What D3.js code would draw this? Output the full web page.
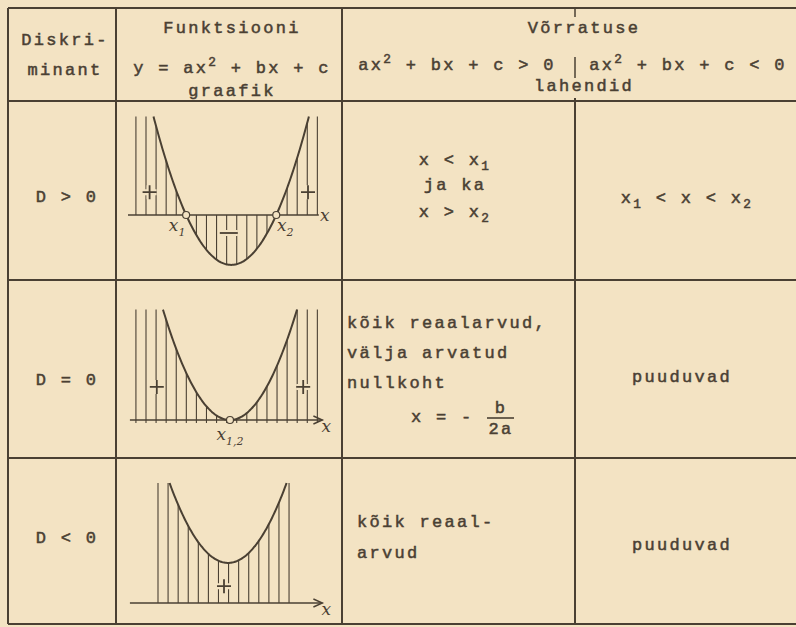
<!DOCTYPE html>
<html>
<head>
<meta charset="utf-8">
<script src="https://cdn.jsdelivr.net/npm/d3@7"></script>
<style>
  body { margin: 0; background: #f3e3c3; }
  svg { display: block; }
</style>
</head>
<body>
<svg id="chart" width="796" height="627"></svg>
<script>
  // --- table texts ---
  const discriminants = ['D > 0', 'D = 0', 'D < 0'];
  const headerDiscr = ['Diskri-', 'minant'];
  const headerGraph = ['Funktsiooni', 'y = ax^{2} + bx + c', 'graafik'];
  const headerIneq = ['Võrratuse', 'lahendid'];
  const ineqLabels = ['ax^{2} + bx + c > 0', 'ax^{2} + bx + c < 0'];
  const solutionsGt = [
    ['x < x_{1}', 'ja ka', 'x > x_{2}'],
    ['kõik reaalarvud,', 'välja arvatud', 'nullkoht'],
    ['kõik reaal-', 'arvud']
  ];
  const solutionsLt = ['x_{1} < x < x_{2}', 'puuduvad', 'puuduvad'];

  // --- parabolas y = a (x - h)^2 + k, in graph units ---
  const parabolaA = [0.59, 0.59, 0.56];
  const vertexH = [4.3, 4.25, 4.17];
  const vertexK = [-2.08, 0, 1.67];
  const curveTop = [4.1, 4.6, 5.0];
  const hatchFrom = [0.33, 0.33, 1.25];
  const hatchTo = [7.9, 7.9, 7.1];
  const signs = [
    [{ x: 0.9, y: 0.95, s: '+' }, { x: 7.5, y: 0.95, s: '+' }, { x: 4.2, y: -0.75, s: '-' }],
    [{ x: 1.2, y: 1.38, s: '+' }, { x: 7.3, y: 1.38, s: '+' }],
    [{ x: 4.0, y: 0.7, s: '+' }]
  ];
  const rootLabels = [['x_{1}', 'x_{2}'], ['x_{1,2}'], []];

  const INK = '#4a4033';
  const PAPER = '#f3e3c3';
  const MONO = '"Liberation Mono", "DejaVu Sans Mono", monospace';
  const HAND = '"DejaVu Serif", serif';

  const colX = [8, 116, 342, 575, 796];
  const rowY = [8, 101, 280, 458, 624];
  const axisY = [215, 420, 603];

  const svg = d3.select('#chart');
  svg.append('rect').attr('width', 796).attr('height', 627).attr('fill', PAPER);

  // text with _{sub} and ^{sup}
  function richText(parent, str, x, y, anchor, size) {
    size = size || 17;
    const t = parent.append('text')
      .attr('x', x).attr('y', y)
      .attr('text-anchor', anchor || 'middle')
      .attr('font-family', MONO)
      .attr('font-size', size)
      .attr('letter-spacing', 2.3)
      .attr('fill', INK)
      .attr('stroke', INK)
      .attr('stroke-width', 0.5);
    const re = /([_^])\{([^}]*)\}/g;
    let last = 0, cur = 0, m;
    const push = (txt, off, fs) => {
      if (!txt) return;
      t.append('tspan').attr('dy', off - cur).attr('font-size', fs).text(txt);
      cur = off;
    };
    while ((m = re.exec(str))) {
      push(str.slice(last, m.index), 0, size);
      push(m[2], m[1] === '_' ? size * 0.3 : -size * 0.42, size * 0.75);
      last = re.lastIndex;
    }
    push(str.slice(last), 0, size);
    return t;
  }

  function handText(parent, str, x, y) {
    const [base, sub] = str.replace('}', '').split('_{');
    const t = parent.append('text')
      .attr('x', x).attr('y', y)
      .attr('text-anchor', 'middle')
      .attr('font-family', HAND)
      .attr('font-style', 'italic')
      .attr('font-size', 17)
      .attr('fill', INK);
    t.append('tspan').text(base);
    if (sub) t.append('tspan').attr('dy', 5).attr('font-size', 11).text(sub);
  }

  // --- grid ---
  const grid = svg.append('g')
    .attr('stroke', INK).attr('stroke-width', 2).attr('fill', 'none');
  rowY.forEach(y => grid.append('line')
    .attr('x1', colX[0]).attr('x2', colX[4]).attr('y1', y).attr('y2', y));
  colX.slice(0, 3).forEach(x => grid.append('line')
    .attr('x1', x).attr('x2', x).attr('y1', rowY[0]).attr('y2', rowY[4]));
  grid.append('line').attr('x1', colX[3]).attr('x2', colX[3])
    .attr('y1', rowY[1] - 3).attr('y2', rowY[4]);
  grid.append('line').attr('x1', colX[3]).attr('x2', colX[3])
    .attr('y1', rowY[0]).attr('y2', rowY[0] + 9).attr('stroke-width', 1.5);
  grid.append('line').attr('x1', colX[3]).attr('x2', colX[3])
    .attr('y1', 57).attr('y2', 78).attr('stroke-width', 1.5);

  // --- header ---
  const head = svg.append('g');
  richText(head, headerDiscr[0], 65, 45);
  richText(head, headerDiscr[1], 65, 75);
  richText(head, headerGraph[0], 232, 33);
  richText(head, headerGraph[1], 232, 73);
  richText(head, headerGraph[2], 232, 96);
  richText(head, headerIneq[0], 584, 33);
  richText(head, headerIneq[1], 584, 91);
  richText(head, ineqLabels[0], 457, 70);
  richText(head, ineqLabels[1], 688, 70);

  // --- body text ---
  const body = svg.append('g');
  const discrY = [202, 385, 543];
  discriminants.forEach((d, i) => richText(body, d, 67, discrY[i]));

  [165, 190, 217].forEach((y, j) => richText(body, solutionsGt[0][j], 455, y));
  [328, 358, 388].forEach((y, j) => richText(body, solutionsGt[1][j], 347, y, 'start'));
  [527, 558].forEach((y, j) => richText(body, solutionsGt[2][j], 357, y, 'start'));

  // x = - b / 2a
  richText(body, 'x = -', 411, 422, 'start');
  richText(body, 'b', 501, 413);
  richText(body, '2a', 501, 434);
  body.append('line').attr('x1', 487).attr('x2', 514).attr('y1', 418).attr('y2', 418)
    .attr('stroke', INK).attr('stroke-width', 1.6);

  const ltY = [203, 382, 550];
  solutionsLt.forEach((s, i) => richText(body, s, i === 0 ? 687 : 682, ltY[i]));

  // --- graphs ---
  parabolaA.forEach((a, i) => {
    const h = vertexH[i], k = vertexK[i];
    const x = d3.scaleLinear().domain([0, 8]).range([128, 320]);
    const y = d3.scaleLinear().domain([0, 1]).range([axisY[i], axisY[i] - 24]);
    const f = v => a * (v - h) * (v - h) + k;
    const half = Math.sqrt((curveTop[i] - k) / a);
    const g = svg.append('g');

    // hatching
    d3.range(hatchFrom[i], hatchTo[i] + 1e-6, 0.42).forEach(v => {
      const outside = Math.abs(v - h) > half;
      const top = outside ? curveTop[i] : f(v);
      g.append('line')
        .attr('x1', x(v)).attr('x2', x(v))
        .attr('y1', y(0) + (i === 1 ? 3 : 0)).attr('y2', y(top))
        .attr('stroke', INK).attr('stroke-width', 1.1);
    });

    // axis
    const ax0 = i === 0 ? 0 : 0.08;
    const ax1 = i === 0 ? 7.95 : 8.1;
    g.append('line')
      .attr('x1', x(ax0)).attr('x2', x(ax1)).attr('y1', y(0)).attr('y2', y(0))
      .attr('stroke', INK).attr('stroke-width', 1.6);
    if (i > 0) {
      g.append('path')
        .attr('d', `M${x(ax1) - 9},${y(0) - 4}L${x(ax1)},${y(0)}L${x(ax1) - 9},${y(0) + 4}`)
        .attr('fill', 'none').attr('stroke', INK).attr('stroke-width', 1.4);
    }
    handText(g, 'x', x(ax1) + (i === 0 ? 6 : 4), y(0) + (i === 0 ? 6 : 12));

    // curve
    const pts = d3.range(h - half, h + half + 1e-6, half / 60).map(v => [v, f(v)]);
    g.append('path')
      .attr('d', d3.line().x(d => x(d[0])).y(d => y(d[1])).curve(d3.curveBasis)(pts))
      .attr('fill', 'none').attr('stroke', INK).attr('stroke-width', 2);

    // signs
    signs[i].forEach(s => {
      const cx = x(s.x), cy = y(s.y);
      const d = s.s === '+'
        ? `M${cx - 7},${cy}H${cx + 7}M${cx},${cy - 7}V${cy + 7}`
        : `M${cx - 9},${cy}H${cx + 9}`;
      g.append('path').attr('d', d).attr('stroke', PAPER).attr('stroke-width', 6);
      g.append('path').attr('d', d).attr('stroke', INK).attr('stroke-width', 1.8);
    });

    // roots
    const roots = k < 0 ? [h - Math.sqrt(-k / a), h + Math.sqrt(-k / a)] : (k === 0 ? [h] : []);
    roots.forEach((r, j) => {
      g.append('circle').attr('cx', x(r)).attr('cy', y(0)).attr('r', 3.5)
        .attr('fill', PAPER).attr('stroke', INK).attr('stroke-width', 1.2);
      const dx = roots.length === 2 ? (j === 0 ? -9 : 9) : 0;
      handText(g, rootLabels[i][j], x(r) + dx, y(0) + (roots.length === 2 ? 16 : 20));
    });
  });
</script>
</body>
</html>
